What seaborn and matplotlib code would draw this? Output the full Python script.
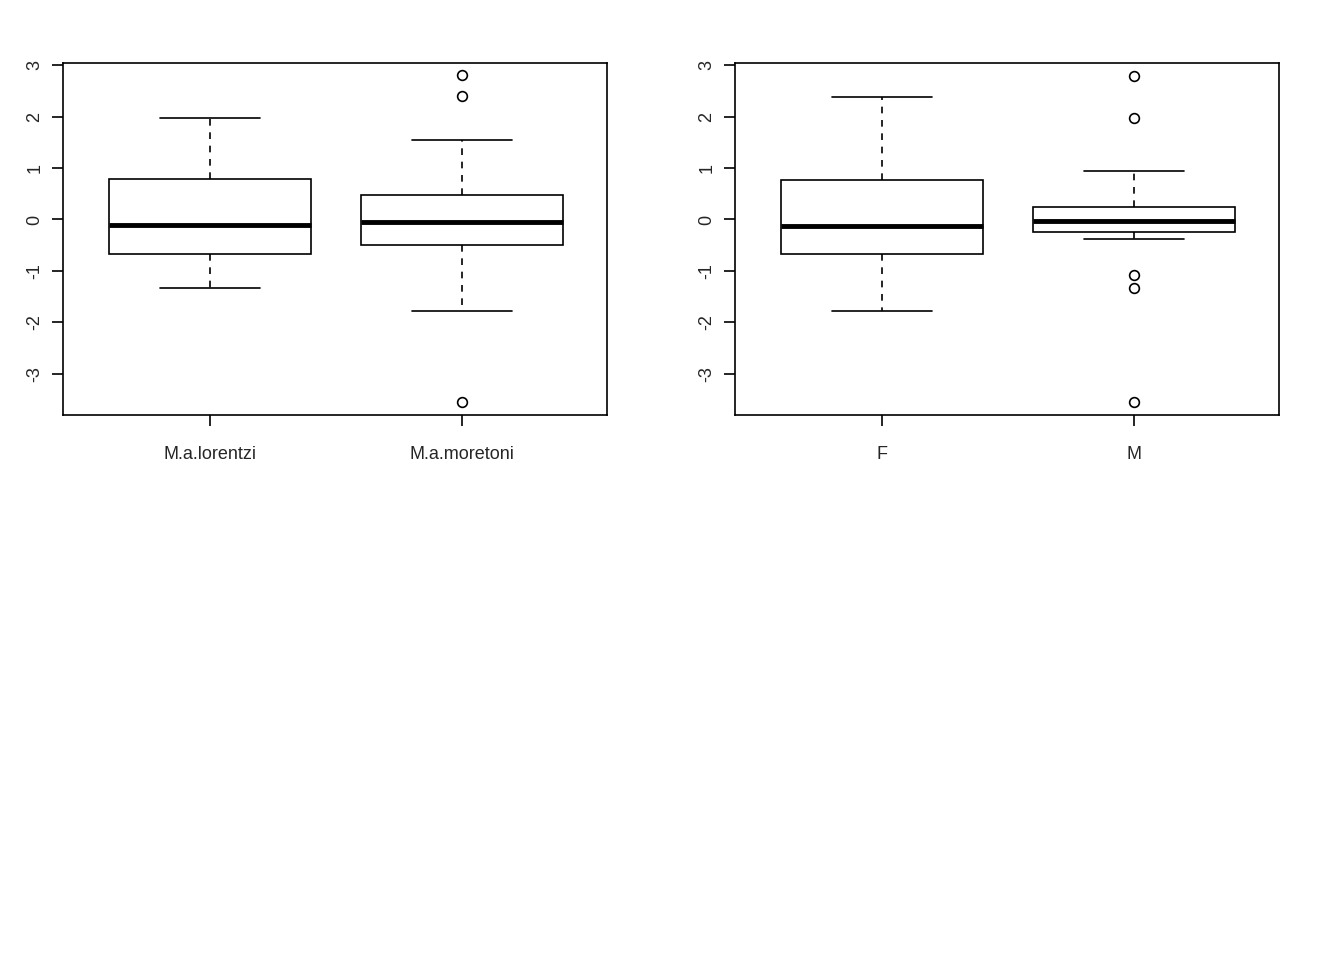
import matplotlib
matplotlib.use("Agg")
import matplotlib.pyplot as plt
import seaborn as sns
import pandas as pd

species = ["M.a.lorentzi", "M.a.moretoni"]
sexes = ["F", "M"]
lorentzi = [-1.33, -1.0, -0.68, -0.4, -0.1, 0.3, 0.78, 1.4, 1.97]
moretoni = [-3.55, -1.78, -1.0, -0.5, -0.3, -0.2, -0.05, 0.1, 0.3, 0.48, 1.55, 2.4, 2.8]
female = [-1.78, -1.2, -0.68, -0.4, -0.12, 0.3, 0.77, 1.5, 2.38]
male = [-3.55, -1.33, -1.08, -0.38, -0.25, -0.2, -0.15, -0.1, -0.03, 0.0, 0.1, 0.2, 0.24, 0.6, 0.94, 1.97, 2.78]
yticks = [-3, -2, -1, 0, 1, 2, 3]

sns.set_style("white")
plt.rcParams['font.family'] = ['Liberation Sans', 'DejaVu Sans']

fig = plt.figure(figsize=(13.44, 9.6), dpi=100)
ax1 = fig.add_axes([63/1344, 1-415/960, 544/1344, 352/960])
ax2 = fig.add_axes([735/1344, 1-415/960, 544/1344, 352/960])

def draw(ax, groups, values):
    df = pd.DataFrame({"g": sum([[g]*len(v) for g, v in zip(groups, values)], []),
                       "v": sum(values, [])})
    sns.boxplot(data=df, x="g", y="v", ax=ax, width=0.8, whis=1.5, color="white",
                linecolor="black", linewidth=1.2,
                boxprops=dict(facecolor="white", edgecolor="black"),
                whiskerprops=dict(linestyle=(0, (4, 4)), color="black"),
                capprops=dict(color="black"),
                medianprops=dict(color="black", linewidth=3.5),
                flierprops=dict(marker="o", markerfacecolor="none", markeredgecolor="black",
                                markersize=7, markeredgewidth=1.2))
    ax.set_xlim(-0.583, 1.575)
    ax.set_ylim(-3.8, 3.04)
    ax.set_yticks(yticks)
    ax.set_yticklabels([str(t) for t in yticks], rotation=90, va="center")
    ax.set_xlabel("")
    ax.set_ylabel("")
    for s in ax.spines.values():
        s.set_visible(True)
        s.set_color("black")
        s.set_linewidth(1.2)
    ax.tick_params(axis="both", direction="out", length=8, width=1.2, color="black",
                   labelsize=13, pad=6, left=True, bottom=True)
    ax.tick_params(axis="x", pad=14)

draw(ax1, species, [lorentzi, moretoni])
draw(ax2, sexes, [female, male])

fig.savefig("out.png", dpi=100)
